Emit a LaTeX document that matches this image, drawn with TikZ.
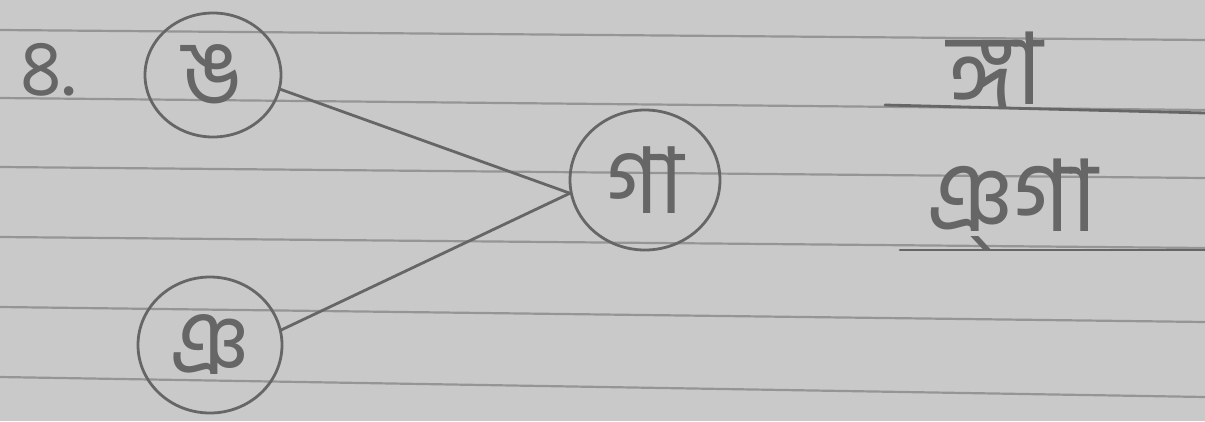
\documentclass[tikz,border=0pt]{standalone}
\usepackage{fontspec}
\newfontfamily\bn[Script=Bengali]{Hind Siliguri}
\usetikzlibrary{shapes.geometric}
\definecolor{paper}{HTML}{C9C9C9}
\definecolor{rule}{HTML}{959595}
\definecolor{pencil}{HTML}{666666}
\tikzset{
  ruleline/.style={draw=rule, line width=2.2pt},
  pen/.style={draw=pencil, line width=2.8pt, line cap=round},
  letter/.style={ellipse, pen, text=pencil, inner sep=0pt, font=\bn\fontsize{92}{92}\selectfont},
  word/.style={text=pencil, inner sep=0pt, font=\bn\fontsize{100}{100}\selectfont}
}
\begin{document}
\begin{tikzpicture}[x=1pt,y=-1pt]
\useasboundingbox (0,0) rectangle (1205,421);
\fill[paper] (0,0) rectangle (1205,421);
% ruled lines of the notebook
\draw[ruleline] (0,30) -- (1205,40);
\draw[ruleline] (0,98) -- (1205,110);
\draw[ruleline] (0,167) -- (1205,178);
\draw[ruleline] (0,237) -- (1205,248);
\draw[ruleline] (0,307) -- (1205,322);
\draw[ruleline] (0,377) -- (1205,397);
% question number
\node[text=pencil, font=\bn\fontsize{80}{80}\selectfont] (num) at (48,70) {৪.};
% circled letters
\node[letter, minimum width=136pt, minimum height=124pt] (nga) at (213,75) {ঙ};
\node[letter, minimum width=150pt, minimum height=140pt] (ga) at (645,180) {গা};
\node[letter, minimum width=144pt, minimum height=136pt] (nya) at (210,345) {ঞ};
% connectors
\draw[pen] (nga.-12) -- (ga.190);
\draw[pen] (nya.12) -- (ga.190);
% results
\node[word] (w1) at (995,70) {ঙ্গা};
\node[word] (w2) at (1012,204) {ঞ্গা};
\coordinate (u1a) at (885,105);
\coordinate (u1b) at (1205,113);
\coordinate (u2a) at (900,250);
\coordinate (u2b) at (1205,250);
\draw[pen] (u1a) -- (u1b);
\draw[pen] (u2a) -- (u2b);
\end{tikzpicture}
\end{document}
